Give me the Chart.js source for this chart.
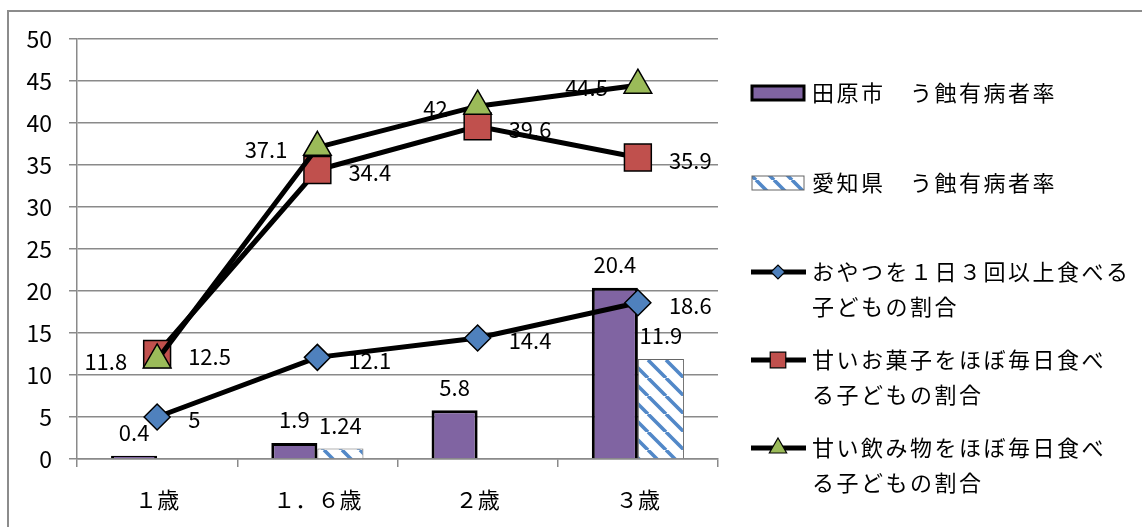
<!DOCTYPE html>
<html>
<head>
<meta charset="utf-8">
<script src="https://cdn.jsdelivr.net/npm/chart.js@4/dist/chart.umd.min.js"></script>
<style>
html,body{margin:0;padding:0;background:#fff;overflow:hidden}
#wrap{position:relative;width:1142px;height:527px}
#wrap canvas{position:absolute;left:0;top:0}
#frame{position:absolute;left:7px;top:10px;width:1200px;height:600px;border:2px solid #8c8c8c;box-sizing:border-box;pointer-events:none}
</style>
</head>
<body>
<div id="wrap">
  <canvas id="chart" width="1142" height="527"></canvas>
  <div id="frame"></div>
</div>
<script>
// Data
const ages = ['１歳', '１．６歳', '２歳', '３歳'];
const taharaRate = [0.4, 1.9, 5.8, 20.4];
const aichiRate = [null, 1.24, null, 11.9];
const snackRate = [5, 12.1, 14.4, 18.6];
const sweetsRate = [12.5, 34.4, 39.6, 35.9];
const drinkRate = [11.8, 37.1, 42, 44.5];
const yMin = 0, yMax = 50, yStep = 5;

const FONT = '"Noto Sans CJK JP", "Noto Sans", sans-serif';
Chart.defaults.font.family = FONT;

// Hatch for Aichi bars
function hatch(){
  const n = 18;
  const c = document.createElement('canvas');
  c.width = n; c.height = n;
  const g = c.getContext('2d');
  g.fillStyle = '#fff';
  g.fillRect(0, 0, n, n);
  g.strokeStyle = '#5288c8';
  g.lineWidth = 3.6;
  g.beginPath();
  for (const k of [-n, 0, n]){
    g.moveTo(k, 0);
    g.lineTo(k + n, n);
  }
  g.stroke();
  return g.createPattern(c, 'repeat');
}

// Value labels (drawn under the lines, like the original)
const valueLabels = {
  id: 'valueLabels',
  beforeDatasetsDraw(chart){
    const ctx = chart.ctx;
    ctx.save();
    ctx.font = '22px ' + FONT;
    ctx.fillStyle = '#000';
    ctx.textBaseline = 'middle';
    chart.data.datasets.forEach((ds, di)=>{
      const meta = chart.getDatasetMeta(di);
      meta.data.forEach((el, i)=>{
        const v = ds.data[i];
        if (v == null) return;
        const t = String(v);
        if (ds.labelPos === 'top'){
          ctx.textAlign = 'center';
          ctx.fillText(t, el.x, el.y - 23);
        } else if (ds.labelPos === 'right'){
          ctx.textAlign = 'left';
          ctx.fillText(t, el.x + 31, el.y + 3);
        } else {
          ctx.textAlign = 'right';
          ctx.fillText(t, el.x - 30, el.y + 2);
        }
      });
    });
    ctx.restore();
  }
};

// Legend on the right
const sideLegend = {
  id: 'sideLegend',
  afterDraw(chart, args, opts){
    const ctx = chart.ctx;
    ctx.save();
    ctx.font = '22px ' + FONT;
    ctx.letterSpacing = '2.5px';
    ctx.textAlign = 'left';
    ctx.textBaseline = 'middle';
    chart.data.datasets.forEach((ds, i)=>{
      const y = opts.rows[i];
      const x0 = opts.iconX, x1 = opts.iconX + opts.iconW;
      if (ds.type === 'bar'){
        ctx.fillStyle = ds.backgroundColor;
        ctx.fillRect(x0, y - 7, x1 - x0, 14);
        ctx.strokeStyle = ds.borderColor;
        ctx.lineWidth = ds.borderWidth;
        ctx.strokeRect(x0, y - 7, x1 - x0, 14);
      } else {
        ctx.strokeStyle = '#000';
        ctx.lineWidth = 5;
        ctx.beginPath();
        ctx.moveTo(x0 - 1, y);
        ctx.lineTo(x1 + 2, y);
        ctx.stroke();
        ctx.fillStyle = ds.pointBackgroundColor;
        ctx.strokeStyle = '#000';
        ctx.lineWidth = 1.2;
        Chart.helpers.drawPoint(ctx, {pointStyle: ds.pointStyle, radius: ds.legendRadius, borderWidth: 1.2, rotation: 0}, (x0 + x1) / 2, y);
      }
      ctx.fillStyle = '#000';
      ds.label.split('\n').forEach((line, li)=>{
        ctx.fillText(line, opts.textX, y + li * opts.lineGap);
      });
    });
    ctx.restore();
  }
};

const gridColor = '#8a8a8a';

new Chart(document.getElementById('chart'), {
  type: 'bar',
  data: {
    labels: ages,
    datasets: [
      {
        type: 'bar', label: '田原市　う蝕有病者率', data: taharaRate,
        backgroundColor: '#8064a2', borderColor: '#000', borderWidth: 3,
        barPercentage: 1, categoryPercentage: 0.575, order: 10, labelPos: 'top'
      },
      {
        type: 'bar', label: '愛知県　う蝕有病者率', data: aichiRate,
        backgroundColor: hatch(), borderColor: '#666', borderWidth: 1,
        barPercentage: 1, categoryPercentage: 0.575, order: 11, labelPos: 'top'
      },
      {
        type: 'line', label: 'おやつを１日３回以上食べる\n子どもの割合', data: snackRate,
        borderColor: '#000', borderWidth: 5, tension: 0, fill: false,
        pointStyle: 'rectRot', pointRadius: 13, pointBackgroundColor: '#4f81bd',
        pointBorderColor: '#000', pointBorderWidth: 1.5, legendRadius: 7,
        order: 3, labelPos: 'right'
      },
      {
        type: 'line', label: '甘いお菓子をほぼ毎日食べ\nる子どもの割合', data: sweetsRate,
        borderColor: '#000', borderWidth: 5, tension: 0, fill: false,
        pointStyle: 'rect', pointRadius: 19, pointBackgroundColor: '#c0504d',
        pointBorderColor: '#000', pointBorderWidth: 1.5, legendRadius: 11,
        order: 2, labelPos: 'right'
      },
      {
        type: 'line', label: '甘い飲み物をほぼ毎日食べ\nる子どもの割合', data: drinkRate,
        borderColor: '#000', borderWidth: 5, tension: 0, fill: false,
        pointStyle: 'triangle', pointRadius: 16, pointBackgroundColor: '#9bbb59',
        pointBorderColor: '#000', pointBorderWidth: 1.5, legendRadius: 10,
        order: 1, labelPos: 'left'
      }
    ]
  },
  options: {
    responsive: false,
    animation: false,
    layout: {padding: {left: 0, top: 39, right: 424, bottom: 0}},
    plugins: {
      legend: {display: false},
      tooltip: {enabled: false},
      sideLegend: {iconX: 752, iconW: 52, textX: 812, lineGap: 35, rows: [93, 183, 272, 360, 448]}
    },
    scales: {
      x: {
        grid: {drawOnChartArea: false, offset: true, tickLength: 8, color: gridColor, lineWidth: 1.5},
        border: {color: gridColor, width: 1.5},
        ticks: {font: {size: 22}, color: '#000', padding: 19},
        afterFit(s){ s.height = 68; }
      },
      y: {
        min: yMin, max: yMax,
        ticks: {stepSize: yStep, font: {size: 23}, color: '#000', padding: 17},
        grid: {color: gridColor, lineWidth: 1.5, tickLength: 8},
        border: {color: gridColor, width: 1.5},
        afterFit(s){ s.width = 77; }
      }
    }
  },
  plugins: [valueLabels, sideLegend]
});
</script>
</body>
</html>
